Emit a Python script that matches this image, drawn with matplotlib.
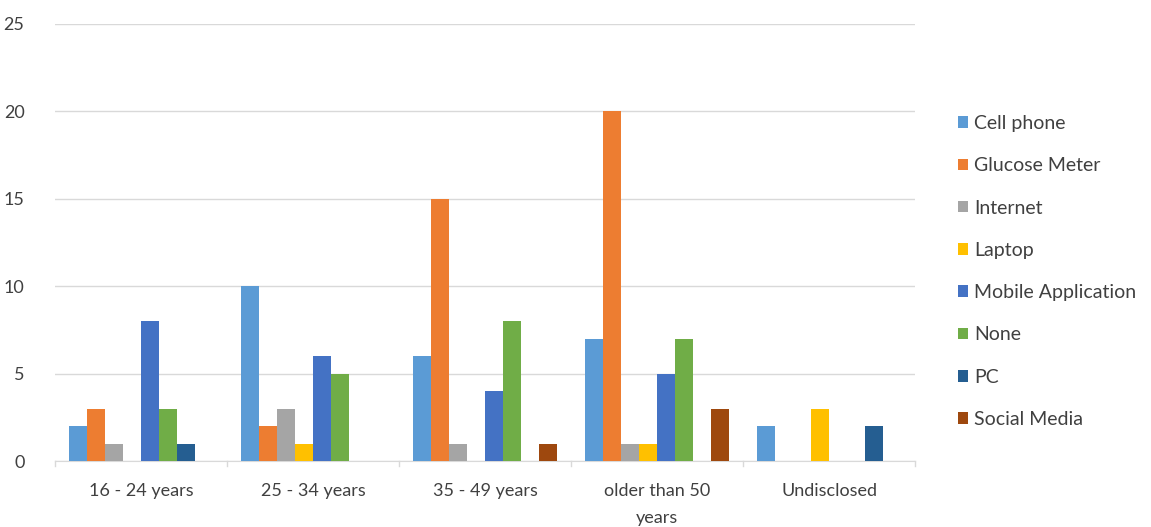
import numpy as np
import matplotlib.pyplot as plt

plt.rcParams['font.family'] = ['Lato', 'DejaVu Sans']

categories = ['16 - 24 years', '25 - 34 years', '35 - 49 years', 'older than 50\nyears', 'Undisclosed']
series_names = ['Cell phone', 'Glucose Meter', 'Internet', 'Laptop',
                'Mobile Application', 'None', 'PC', 'Social Media']
cell_phone = [2, 10, 6, 7, 2]
glucose_meter = [3, 2, 15, 20, 0]
internet = [1, 3, 1, 1, 0]
laptop = [0, 1, 0, 1, 3]
mobile_app = [8, 6, 4, 5, 0]
none = [3, 5, 8, 7, 0]
pc = [1, 0, 0, 0, 2]
social_media = [0, 0, 1, 3, 0]

series_values = [cell_phone, glucose_meter, internet, laptop,
                 mobile_app, none, pc, social_media]
colors = ['#5B9BD5', '#ED7D31', '#A5A5A5', '#FFC000',
          '#4472C4', '#70AD47', '#255E91', '#9E480E']

fig = plt.figure(figsize=(11.51, 5.27), dpi=100)
ax = fig.add_axes([0.0478, 0.1252, 0.7472, 0.8293])

x = np.arange(len(categories))
n = len(series_values)
width = 0.105
for i, (name, vals, c) in enumerate(zip(series_names, series_values, colors)):
    offs = (i - (n - 1) / 2) * width
    ax.bar(x + offs, vals, width, color=c, label=name, zorder=3)

ax.set_xlim(-0.5, len(categories) - 0.5)
ax.set_ylim(0, 25)
ax.set_yticks([0, 5, 10, 15, 20, 25])
ax.yaxis.grid(True, color='#D9D9D9', linewidth=1, zorder=0)
for s in ['top', 'right', 'left']:
    ax.spines[s].set_visible(False)
ax.spines['bottom'].set_color('#D9D9D9')
ax.tick_params(axis='y', length=0, labelsize=13, colors='#404040', pad=22)
ax.set_xticks(x)
ax.set_xticklabels(categories, fontsize=13, color='#404040', linespacing=1.8)
ax.tick_params(axis='x', length=0, pad=16)
# category separators on the baseline
for b in np.arange(-0.5, len(categories), 1.0):
    ax.plot([b, b], [0, -0.3], color='#D9D9D9', lw=1, clip_on=False)

fig.legend(loc='upper left', bbox_to_anchor=(0.817, 0.815), frameon=False,
           fontsize=14, handlelength=0.53, handleheight=0.53, handletextpad=0.3,
           labelspacing=1.3, labelcolor='#404040')

fig.savefig('out.png', dpi=100)
